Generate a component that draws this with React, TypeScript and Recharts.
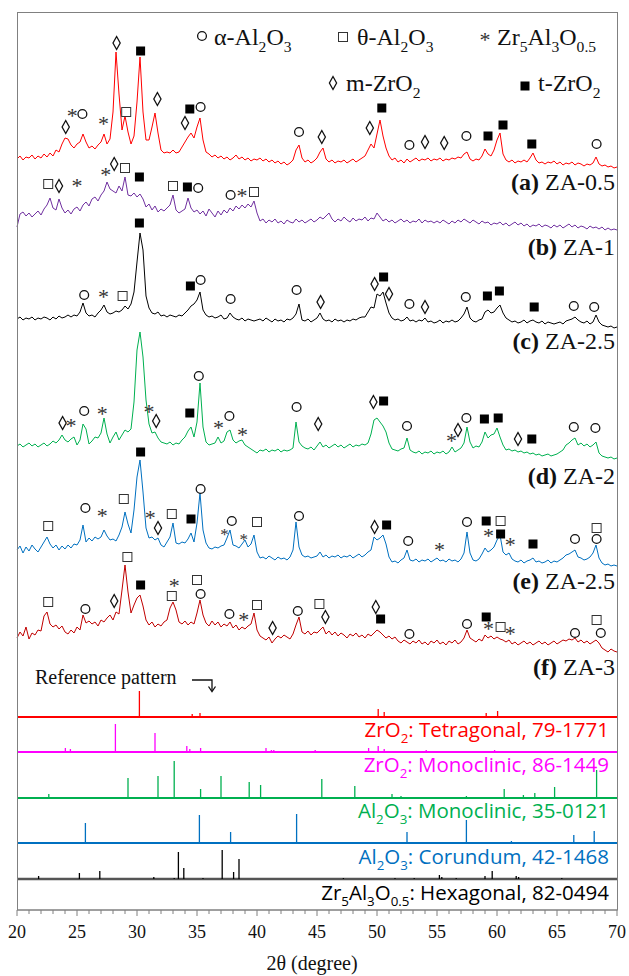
import React from 'react';
import { ComposedChart, Line, XAxis, YAxis, ReferenceLine, ReferenceDot } from 'recharts';

// scan: 20-70 deg 2theta, step 0.25 deg; intensities in arbitrary units
const SCAN_START = 20;
const SCAN_STEP = 0.25;

const ZA_05 = [
  13, 16, 12, 15, 14, 17, 13, 16, 14, 18, 15, 19, 16, 22, 20, 28, 34, 33, 27, 24,
  28, 30, 38, 30, 24, 26, 23, 27, 30, 38, 28, 33, 60, 120, 78, 42, 56, 40, 28, 36,
  70, 115, 60, 32, 32, 45, 59, 39, 22, 19, 20, 19, 22, 19, 20, 25, 30, 35, 39, 34,
  45, 54, 32, 20, 18, 15, 17, 14, 16, 13, 15, 12, 14, 17, 13, 15, 12, 14, 11, 13,
  12, 14, 11, 13, 10, 12, 9, 11, 8, 10, 7, 9, 12, 22, 27, 14, 10, 12, 9, 11,
  14, 20, 24, 13, 10, 12, 9, 11, 10, 12, 9, 11, 13, 10, 12, 14, 16, 22, 28, 24,
  38, 52, 36, 24, 16, 12, 14, 10, 12, 9, 13, 10, 12, 14, 11, 13, 12, 14, 11, 13,
  12, 14, 11, 13, 12, 14, 13, 15, 14, 18, 20, 13, 11, 13, 12, 16, 23, 18, 16, 22,
  32, 39, 18, 12, 10, 12, 9, 11, 10, 12, 10, 14, 19, 12, 9, 10, 8, 10, 9, 11,
  8, 10, 7, 9, 8, 10, 7, 9, 8, 6, 8, 7, 9, 15, 8, 6, 7, 5, 6, 4,
  5,
];
const ZA_1 = [
  8, 21, 23, 19, 22, 18, 21, 24, 20, 26, 30, 37, 27, 25, 36, 27, 22, 25, 21, 26,
  28, 24, 30, 33, 29, 36, 38, 34, 40, 44, 53, 46, 44, 42, 49, 44, 58, 40, 39, 42,
  38, 41, 36, 28, 31, 25, 29, 23, 26, 24, 27, 30, 40, 25, 22, 24, 26, 37, 27, 23,
  25, 21, 24, 19, 26, 22, 18, 24, 20, 25, 22, 27, 24, 29, 26, 30, 27, 31, 28, 34,
  22, 14, 16, 12, 15, 13, 16, 12, 14, 11, 15, 13, 12, 16, 13, 15, 12, 14, 16, 13,
  15, 18, 16, 19, 22, 16, 13, 16, 14, 18, 15, 13, 17, 14, 16, 15, 18, 14, 17, 16,
  22, 18, 14, 16, 13, 15, 12, 14, 16, 13, 15, 12, 14, 13, 16, 12, 15, 13, 14, 12,
  14, 12, 15, 13, 11, 14, 12, 15, 13, 16, 14, 12, 15, 13, 11, 14, 12, 13, 10, 12,
  11, 13, 10, 12, 9, 11, 13, 10, 12, 9, 11, 8, 10, 9, 11, 8, 10, 9, 7, 10,
  8, 10, 7, 9, 11, 8, 10, 7, 9, 8, 6, 9, 7, 8, 6, 8, 5, 7, 5, 6,
  5,
];
const ZA_25C = [
  13, 15, 12, 14, 13, 15, 12, 14, 13, 15, 14, 12, 15, 13, 16, 14, 15, 17, 15, 17,
  16, 20, 29, 19, 16, 17, 15, 19, 22, 27, 20, 18, 19, 21, 20, 22, 26, 23, 28, 40,
  70, 99, 82, 36, 24, 19, 18, 20, 16, 17, 15, 17, 16, 15, 17, 16, 19, 22, 26, 28,
  32, 40, 22, 17, 15, 16, 14, 15, 17, 13, 14, 19, 15, 13, 12, 14, 11, 13, 12, 11,
  12, 13, 11, 14, 12, 10, 13, 11, 12, 10, 13, 12, 14, 18, 28, 12, 11, 13, 10, 12,
  14, 19, 13, 11, 12, 10, 13, 11, 12, 10, 12, 11, 13, 12, 14, 15, 15, 20, 25, 24,
  38, 36, 40, 29, 19, 14, 12, 13, 11, 12, 15, 11, 12, 10, 12, 11, 14, 10, 11, 9,
  10, 12, 9, 11, 10, 12, 10, 11, 14, 18, 25, 14, 11, 10, 12, 13, 20, 22, 19, 20,
  24, 27, 19, 14, 12, 10, 11, 9, 10, 12, 9, 11, 12, 10, 9, 11, 8, 10, 9, 8,
  9, 10, 8, 11, 12, 13, 15, 12, 10, 9, 11, 8, 10, 17, 10, 7, 6, 5, 6, 4,
  5,
];
const ZA_2 = [
  16, 18, 15, 17, 19, 16, 18, 15, 17, 19, 16, 18, 21, 19, 22, 27, 22, 20, 23, 25,
  17, 22, 38, 33, 18, 21, 25, 24, 29, 44, 28, 19, 25, 30, 22, 27, 32, 30, 33, 60,
  112, 130, 105, 62, 38, 29, 30, 24, 20, 19, 18, 20, 17, 19, 18, 22, 25, 31, 35, 25,
  40, 79, 35, 20, 17, 18, 19, 25, 19, 21, 30, 32, 22, 19, 21, 22, 17, 15, 13, 11,
  9, 12, 11, 13, 10, 12, 11, 13, 10, 12, 11, 12, 14, 40, 20, 16, 14, 13, 15, 12,
  16, 20, 15, 17, 14, 16, 18, 15, 17, 14, 16, 18, 15, 17, 16, 18, 17, 19, 28, 42,
  44, 40, 36, 30, 19, 13, 12, 11, 13, 14, 24, 12, 10, 9, 11, 8, 10, 9, 11, 8,
  10, 9, 11, 8, 10, 15, 10, 12, 14, 19, 35, 20, 14, 16, 15, 20, 30, 24, 27, 28,
  34, 25, 17, 12, 13, 11, 12, 10, 11, 9, 10, 8, 9, 7, 8, 6, 7, 8, 6, 7,
  8, 10, 12, 17, 19, 22, 24, 17, 19, 16, 18, 15, 17, 20, 9, 6, 5, 4, 5, 3,
  4,
];
const ZA_25E = [
  22, 26, 19, 25, 21, 27, 23, 20, 25, 30, 35, 28, 24, 27, 22, 26, 23, 27, 24, 28,
  27, 32, 47, 30, 34, 31, 35, 33, 35, 42, 36, 32, 33, 31, 37, 45, 60, 48, 39, 62,
  95, 112, 80, 44, 34, 35, 32, 34, 27, 25, 30, 35, 49, 29, 28, 30, 29, 33, 39, 30,
  49, 79, 42, 29, 24, 23, 25, 24, 26, 27, 34, 42, 27, 26, 24, 28, 32, 25, 28, 37,
  20, 14, 15, 13, 16, 14, 12, 15, 13, 14, 12, 15, 22, 50, 25, 17, 15, 16, 14, 15,
  16, 20, 15, 17, 14, 16, 15, 17, 14, 16, 15, 17, 14, 16, 18, 15, 17, 20, 22, 35,
  32, 34, 37, 28, 15, 10, 11, 9, 12, 14, 22, 12, 11, 13, 10, 12, 11, 13, 10, 12,
  14, 11, 12, 10, 13, 11, 12, 10, 13, 19, 40, 19, 12, 11, 13, 18, 24, 20, 22, 25,
  32, 37, 20, 17, 19, 13, 11, 10, 12, 9, 11, 12, 14, 10, 11, 9, 10, 12, 9, 11,
  10, 12, 14, 17, 18, 20, 22, 15, 14, 12, 13, 15, 19, 27, 14, 9, 7, 8, 6, 7,
  6,
];
const ZA_3 = [
  22, 28, 24, 33, 21, 27, 25, 30, 29, 44, 48, 36, 33, 35, 31, 34, 28, 26, 30, 27,
  33, 30, 45, 37, 39, 36, 38, 34, 40, 38, 42, 45, 40, 48, 46, 70, 95, 68, 47, 55,
  62, 65, 54, 40, 35, 38, 33, 36, 34, 38, 40, 52, 58, 50, 38, 36, 39, 35, 38, 36,
  47, 60, 45, 37, 34, 39, 35, 38, 33, 36, 34, 38, 32, 35, 30, 33, 31, 34, 36, 47,
  30, 24, 22, 20, 23, 17, 21, 24, 22, 25, 23, 21, 26, 35, 43, 28, 26, 29, 25, 28,
  27, 30, 33, 26, 29, 25, 28, 24, 27, 25, 22, 26, 24, 27, 23, 25, 22, 26, 24, 27,
  30, 28, 25, 22, 24, 21, 23, 19, 17, 20, 18, 16, 19, 17, 20, 16, 18, 15, 19, 17,
  20, 16, 18, 15, 19, 17, 20, 16, 18, 22, 30, 22, 20, 18, 21, 19, 25, 22, 24, 21,
  23, 21, 20, 18, 20, 16, 18, 15, 17, 19, 16, 18, 15, 17, 19, 16, 18, 15, 17, 19,
  16, 18, 20, 19, 21, 20, 22, 18, 20, 17, 19, 16, 18, 20, 17, 12, 10, 8, 11, 9,
  8,
];

// phase markers: [symbol, 2theta, height]  o=alpha-Al2O3 s=theta-Al2O3 *=Zr5Al3O0.5 d=m-ZrO2 f=t-ZrO2
type Mark = [string, number, number];
const MARKS_A: Mark[] = [
  ['d', 24.06, 783], ['*', 24.6, 797], ['o', 25.45, 796], ['*', 27.2, 789], ['d', 28.3, 867],
  ['s', 29.1, 798], ['f', 30.3, 859], ['d', 31.7, 811], ['d', 34.0, 787], ['f', 34.4, 801],
  ['o', 35.3, 803], ['o', 43.5, 778], ['d', 45.4, 773], ['d', 49.4, 782], ['f', 50.4, 802],
  ['o', 52.7, 765], ['d', 54.0, 768], ['d', 55.6, 767], ['o', 57.45, 774], ['f', 59.25, 774],
  ['f', 60.5, 785], ['f', 62.9, 766], ['o', 68.3, 766],
];
const MARKS_B: Mark[] = [
  ['s', 22.6, 726], ['d', 23.5, 724], ['*', 25.0, 727], ['*', 27.4, 738], ['d', 28.1, 746],
  ['s', 29.0, 742], ['f', 30.2, 733], ['s', 33.0, 724], ['f', 34.2, 723], ['o', 35.1, 722],
  ['o', 37.8, 715], ['*', 38.75, 717], ['s', 39.75, 718],
];
const MARKS_C: Mark[] = [
  ['o', 25.6, 615], ['*', 27.2, 616], ['s', 28.8, 614], ['f', 30.2, 687], ['f', 34.45, 624],
  ['o', 35.3, 630], ['o', 37.8, 611], ['o', 43.3, 620], ['d', 45.3, 608], ['d', 49.8, 626],
  ['f', 50.55, 633], ['d', 51.0, 616], ['o', 52.7, 606], ['d', 54.0, 603], ['o', 57.4, 613],
  ['f', 59.2, 614], ['f', 60.2, 619], ['f', 63.1, 603], ['o', 66.4, 604], ['o', 68.1, 603],
];
const MARKS_D: Mark[] = [
  ['d', 23.8, 487], ['*', 24.5, 487], ['o', 25.6, 499], ['*', 27.1, 499], ['*', 31.0, 501],
  ['d', 31.6, 489], ['f', 34.4, 497], ['o', 35.15, 534], ['*', 36.8, 485], ['o', 37.7, 494],
  ['*', 38.8, 478], ['o', 43.3, 503], ['d', 45.1, 486], ['d', 49.7, 508], ['f', 50.55, 509],
  ['o', 52.5, 484], ['*', 56.2, 472], ['d', 56.75, 480], ['o', 57.45, 492], ['f', 58.95, 491],
  ['f', 60.1, 492], ['d', 61.75, 471], ['f', 62.9, 471], ['o', 66.4, 483], ['o', 68.2, 482],
];
const MARKS_E: Mark[] = [
  ['s', 22.6, 384], ['o', 25.7, 402], ['*', 27.1, 397], ['s', 28.9, 411], ['f', 30.3, 458],
  ['*', 31.1, 395], ['d', 31.75, 382], ['s', 32.9, 396], ['f', 34.5, 391], ['o', 35.3, 421],
  ['+', 37.3, 378], ['o', 37.9, 389], ['+', 38.9, 373], ['s', 40.0, 388], ['o', 43.5, 394],
  ['d', 49.8, 383], ['f', 50.8, 385], ['o', 52.6, 369], ['*', 55.2, 363], ['o', 57.5, 388],
  ['f', 59.1, 389], ['s', 60.3, 389], ['*', 59.3, 377], ['f', 60.3, 376], ['*', 61.1, 368],
  ['f', 63.0, 366], ['o', 66.5, 371], ['s', 68.3, 382], ['o', 68.3, 371],
];
const MARKS_F: Mark[] = [
  ['s', 22.6, 308], ['o', 25.7, 301], ['d', 28.1, 309], ['s', 29.2, 353], ['f', 30.3, 325],
  ['*', 33.1, 327], ['s', 32.9, 314], ['s', 35.0, 330], ['o', 35.3, 316], ['o', 37.7, 296],
  ['*', 38.9, 293], ['s', 40.0, 305], ['d', 41.3, 282], ['o', 43.4, 299], ['s', 45.2, 306],
  ['d', 45.7, 293], ['d', 49.9, 303], ['f', 50.3, 291], ['o', 52.7, 276], ['o', 57.5, 286],
  ['f', 59.1, 293], ['*', 59.3, 284], ['s', 60.3, 283], ['*', 61.1, 279], ['o', 66.5, 277],
  ['s', 68.3, 290], ['o', 68.65, 277],
];

// reference patterns: [2theta, relative intensity]
const REF_T_ZRO2 = [[30.2, 26], [34.6, 3], [35.25, 4], [50.1, 8], [50.6, 5], [59.1, 4], [60.05, 6], [62.7, 1]];
const REF_M_ZRO2 = [
  [24.03, 4], [24.45, 3], [28.2, 28], [31.5, 19], [34.15, 6], [34.4, 3], [35.3, 4], [35.9, 1], [38.55, 1],
  [40.75, 4], [41.2, 2], [41.4, 2], [44.85, 2], [45.6, 1], [49.3, 4], [50.1, 6], [50.6, 3], [54.1, 2],
  [55.5, 1], [55.8, 1], [57.6, 1], [59.8, 2], [61.6, 1], [64.0, 1], [65.8, 1],
];
const REF_M_AL2O3 = [
  [22.65, 4], [29.25, 20], [31.75, 22], [33.1, 37], [35.3, 9], [37.0, 22], [39.35, 16], [40.3, 13],
  [45.4, 19], [48.15, 12], [51.25, 4], [52.0, 2], [53.4, 1], [57.45, 2], [59.4, 1], [60.6, 9],
  [62.2, 3], [63.15, 5], [64.8, 11], [66.2, 1], [68.3, 28],
];
const REF_CORUNDUM = [
  [25.7, 20], [35.2, 28], [37.8, 11], [41.6, 1], [43.3, 29], [46.2, 1], [52.5, 11], [57.45, 23],
  [59.7, 1], [61.2, 2], [66.4, 8], [68.1, 12],
];
const REF_ZR5 = [
  [21.8, 3], [25.2, 6], [26.9, 8], [31.4, 2], [33.1, 1], [33.45, 27], [33.9, 11], [35.5, 1], [37.1, 29],
  [38.05, 7], [38.5, 20], [47.2, 1], [51.5, 1], [53.1, 1], [55.2, 4], [55.4, 2], [56.6, 1], [59.0, 3],
  [59.6, 8], [61.6, 3], [61.8, 2], [65.4, 1],
];

const TICKS = [
  20, 21, 22, 23, 24, 25, 26, 27, 28, 29, 30, 31, 32, 33, 34, 35, 36, 37, 38, 39, 40,
  41, 42, 43, 44, 45, 46, 47, 48, 49, 50, 51, 52, 53, 54, 55, 56, 57, 58, 59, 60,
  61, 62, 63, 64, 65, 66, 67, 68, 69, 70,
];

const SERIF = "'Liberation Serif', 'Times New Roman', serif";
const SANS = "'Open Sans', 'Noto Sans', sans-serif";

const SERIES = [
  { key: 'a', values: ZA_05, offset: 738, color: '#ff0000', marks: MARKS_A },
  { key: 'b', values: ZA_1, offset: 675, color: '#7030a0', marks: MARKS_B },
  { key: 'c', values: ZA_25C, offset: 578, color: '#000000', marks: MARKS_C },
  { key: 'd', values: ZA_2, offset: 448, color: '#00b050', marks: MARKS_D },
  { key: 'e', values: ZA_25E, offset: 338, color: '#0070c0', marks: MARKS_E },
  { key: 'f', values: ZA_3, offset: 250, color: '#c00000', marks: MARKS_F },
];

const REFS = [
  { sticks: REF_T_ZRO2, base: 193, color: '#ff0000', width: 2 },
  { sticks: REF_M_ZRO2, base: 158, color: '#ff00ff', width: 2 },
  { sticks: REF_M_AL2O3, base: 112, color: '#00b050', width: 2 },
  { sticks: REF_CORUNDUM, base: 67, color: '#0070c0', width: 2 },
  { sticks: REF_ZR5, base: 31, color: '#555555', width: 2.5, stick: '#000000' },
];

const rows = ZA_05.map((_, i) => {
  const row: any = { t: SCAN_START + i * SCAN_STEP };
  SERIES.forEach((s) => {
    row[s.key] = s.values[i] + s.offset;
  });
  return row;
});

const Symbol = ({ cx, cy, kind }: any) => {
  if (kind === 'o') return <circle cx={cx} cy={cy} r={4.4} fill="none" stroke="#111" strokeWidth={1.3} />;
  if (kind === 's') return <rect x={cx - 4.5} y={cy - 4.5} width={9} height={9} fill="none" stroke="#333" strokeWidth={1} />;
  if (kind === 'f') return <rect x={cx - 4.5} y={cy - 4.5} width={9} height={9} fill="#000" />;
  if (kind === 'd')
    return (
      <path
        d={`M${cx},${cy - 6.5} L${cx + 3.6},${cy} L${cx},${cy + 6.5} L${cx - 3.6},${cy} Z`}
        fill="none"
        stroke="#111"
        strokeWidth={1.3}
      />
    );
  const big = kind === '*';
  return (
    <text x={cx} y={cy + (big ? 10 : 8)} textAnchor="middle" fontFamily={SERIF} fontSize={big ? 22 : 17} fill="#333">
      *
    </text>
  );
};

// text with subscripts: parts of [text, isSubscript]
const Rich = ({ parts, size }: { parts: [string, boolean][]; size: number }) => {
  let down = false;
  return (
    <>
      {parts.map(([s, sub], i) => {
        const dy = sub && !down ? size * 0.28 : !sub && down ? -size * 0.28 : 0;
        down = sub;
        return (
          <tspan key={i} dy={dy} fontSize={sub ? size * 0.65 : size}>
            {s}
          </tspan>
        );
      })}
    </>
  );
};

const AxisTick = (props: any) => {
  const { x, y, payload } = props;
  const major = payload.value % 5 === 0;
  return (
    <g>
      <line x1={x} x2={x} y1={y} y2={y + (major ? 6 : 4)} stroke="#808080" strokeWidth={1} />
      {major && (
        <text x={x} y={y + 28} textAnchor="middle" fontFamily={SERIF} fontSize={18} fill="#111">
          {payload.value}
        </text>
      )}
    </g>
  );
};

const SAMPLE_LABELS: [string, string, number][] = [
  ['(a)', ' ZA-0.5', 190],
  ['(b)', ' ZA-1', 255],
  ['(c)', ' ZA-2.5', 349],
  ['(d)', ' ZA-2', 484],
  ['(e)', ' ZA-2.5', 589],
  ['(f)', ' ZA-3', 675],
];

const REF_LABELS: { parts: [string, boolean][]; color: string; y: number }[] = [
  { parts: [['ZrO', false], ['2', true], [': Tetragonal, 79-1771', false]], color: '#ff0000', y: 737 },
  { parts: [['ZrO', false], ['2', true], [': Monoclinic, 86-1449', false]], color: '#ff00ff', y: 772 },
  { parts: [['Al', false], ['2', true], ['O', false], ['3', true], [': Monoclinic, 35-0121', false]], color: '#00b050', y: 818 },
  { parts: [['Al', false], ['2', true], ['O', false], ['3', true], [': Corundum, 42-1468', false]], color: '#0070c0', y: 864 },
  {
    parts: [['Zr', false], ['5', true], ['Al', false], ['3', true], ['O', false], ['0.5', true], [': Hexagonal, 82-0494', false]],
    color: '#000000',
    y: 900,
  },
];

export default function App() {
  return (
    <div style={{ position: 'absolute', left: 0, top: 0, width: 629, height: 976, background: '#fff' }}>
      <ComposedChart width={629} height={976} data={rows} margin={{ top: 12, right: 12, bottom: 26, left: 17 }}>
        <XAxis
          dataKey="t"
          type="number"
          domain={[20, 70]}
          ticks={TICKS}
          interval={0}
          tick={<AxisTick />}
          tickLine={false}
          tickSize={0}
          tickMargin={0}
          axisLine={{ stroke: '#808080' }}
          height={40}
        />
        <YAxis hide type="number" domain={[0, 898]} />
        {REFS.map((r, ri) => (
          <ReferenceLine key={`base-${ri}`} y={r.base} stroke={r.color} strokeWidth={r.width} />
        ))}
        {REFS.map((r, ri) =>
          r.sticks.map(([t, h], si) => (
            <ReferenceLine
              key={`stick-${ri}-${si}`}
              segment={[
                { x: t, y: r.base },
                { x: t, y: r.base + h },
              ]}
              stroke={r.stick || r.color}
              strokeWidth={1.3}
            />
          ))
        )}
        {SERIES.map((s) => (
          <Line
            key={s.key}
            dataKey={s.key}
            type="linear"
            stroke={s.color}
            strokeWidth={1}
            dot={false}
            activeDot={false}
            isAnimationActive={false}
          />
        ))}
        {SERIES.map((s) =>
          s.marks.map(([k, t, v], mi) => (
            <ReferenceDot
              key={`m-${s.key}-${mi}`}
              x={t}
              y={v}
              r={4}
              shape={(p: any) => <Symbol cx={p.cx} cy={p.cy} kind={k} />}
            />
          ))
        )}
      </ComposedChart>
      <svg
        width={629}
        height={976}
        style={{ position: 'absolute', left: 0, top: 0, pointerEvents: 'none' }}
        fontFamily={SERIF}
      >
        <rect x={17.5} y={12.5} width={600} height={897.5} fill="none" stroke="#808080" strokeWidth={1} />
        {/* legend */}
        <g fill="#111">
          <Symbol cx={202} cy={36} kind="o" />
          <text x={214} y={45}>
            <Rich parts={[['α-Al', false], ['2', true], ['O', false], ['3', true]]} size={24} />
          </text>
          <Symbol cx={343} cy={37} kind="s" />
          <text x={357} y={45}>
            <Rich parts={[['θ-Al', false], ['2', true], ['O', false], ['3', true]]} size={24} />
          </text>
          <text x={485} y={47} textAnchor="middle" fontSize={22} fill="#333">*</text>
          <text x={497} y={45}>
            <Rich parts={[['Zr', false], ['5', true], ['Al', false], ['3', true], ['O', false], ['0.5', true]]} size={24} />
          </text>
          <Symbol cx={333} cy={83} kind="d" />
          <text x={346} y={91}>
            <Rich parts={[['m-ZrO', false], ['2', true]]} size={24} />
          </text>
          <Symbol cx={525} cy={86} kind="f" />
          <text x={538} y={91}>
            <Rich parts={[['t-ZrO', false], ['2', true]]} size={24} />
          </text>
        </g>
        {SAMPLE_LABELS.map(([tag, name, y]) => (
          <text key={tag} x={615} y={y} textAnchor="end" fontSize={24} fill="#111">
            <tspan fontWeight="bold">{tag}</tspan>
            {name}
          </text>
        ))}
        {REF_LABELS.map((l, i) => (
          <text key={i} x={609} y={l.y} textAnchor="end" fontFamily={SANS} fill={l.color}>
            <Rich parts={l.parts} size={20.5} />
          </text>
        ))}
        <text x={35} y={684} fontSize={20} fill="#111">Reference pattern</text>
        <path d="M192,680 H212 V691" fill="none" stroke="#111" strokeWidth={1.3} />
        <path d="M208.5,686.5 L212,691.5 L215.5,686.5" fill="none" stroke="#111" strokeWidth={1.3} />
        <text x={312} y={970} textAnchor="middle" fontSize={20} fill="#111">2θ (degree)</text>
      </svg>
    </div>
  );
}
